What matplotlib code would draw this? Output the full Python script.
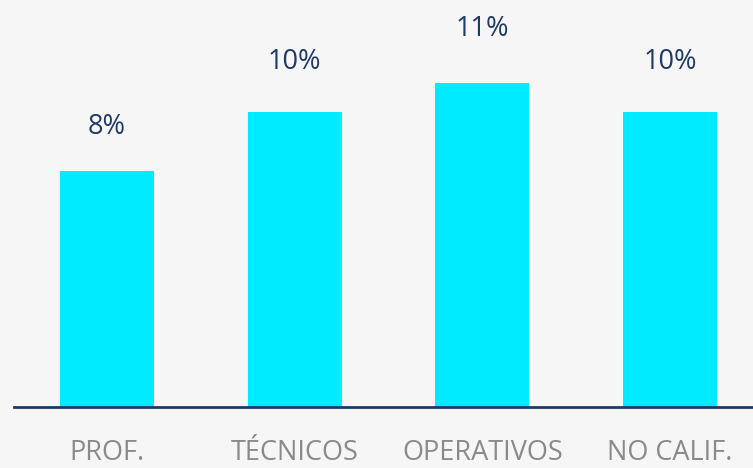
import matplotlib
matplotlib.use("Agg")
import matplotlib.pyplot as plt

categories = ["PROF.", "TÉCNICOS", "OPERATIVOS", "NO CALIF."]
values = [8, 10, 11, 10]
value_labels = ["8%", "10%", "11%", "10%"]

plt.rcParams['font.family'] = ['Open Sans', 'DejaVu Sans']

bg = "#f6f6f6"
fig = plt.figure(figsize=(7.53, 4.68), dpi=100, facecolor=bg)
ax = fig.add_axes([14/753, 61/468, 739/753, 407/468], facecolor=bg)

x = list(range(len(categories)))
ax.bar(x, values, width=0.5, color="#00ebff", zorder=2)

# label placement: slightly stretched above the bars
label_scale, label_base = 1.103, 0.667
for xi, v, lab in zip(x, values, value_labels):
    ax.text(xi, v * label_scale + label_base, lab, ha="center", va="center",
            fontsize=19.5, color="#1f3a66")

ax.set_xlim(-0.495, 3.442)
ax.set_ylim(0, 13.8)

for s in ["top", "right", "left"]:
    ax.spines[s].set_visible(False)
ax.spines["bottom"].set_color("#1f3a66")
ax.spines["bottom"].set_linewidth(2)
ax.set_yticks([])
ax.set_xticks(x)
ax.set_xticklabels(categories, fontsize=19.5, color="#8a8a8a")
ax.tick_params(axis="x", length=0, pad=23)

fig.savefig("out.png", dpi=100, facecolor=bg)
